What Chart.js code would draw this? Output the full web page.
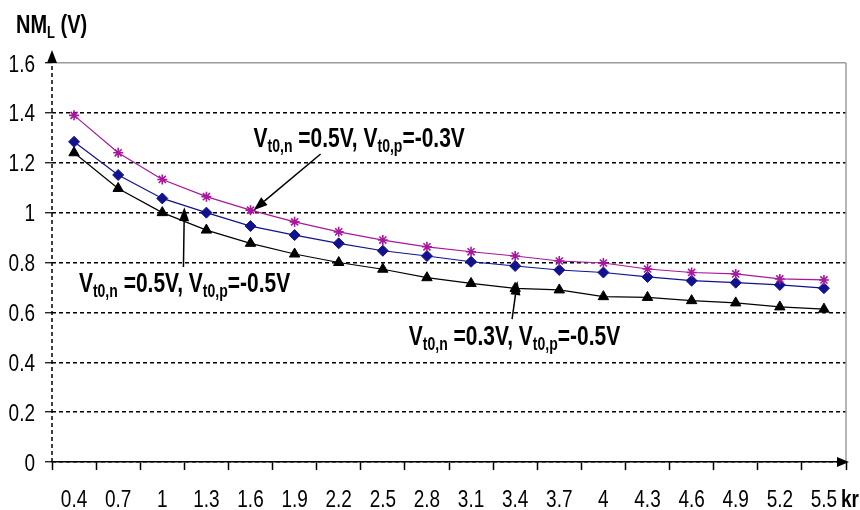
<!DOCTYPE html>
<html>
<head>
<meta charset="utf-8">
<script src="https://cdn.jsdelivr.net/npm/chart.js@4.4.1/dist/chart.umd.min.js"></script>
<style>
html, body { margin: 0; padding: 0; background: #fff; }
</style>
</head>
<body>
<canvas id="nm_chart" width="860" height="510"></canvas>
<script>
// kr values on the x axis
const kr_labels = ['0.4', '0.7', '1', '1.3', '1.6', '1.9', '2.2', '2.5', '2.8', '3.1', '3.4', '3.7', '4', '4.3', '4.6', '4.9', '5.2', '5.5']

// NM_L (V)
const nm_n05_p03 = [1.39, 1.24, 1.133, 1.064, 1.01, 0.963, 0.923, 0.89, 0.863, 0.843, 0.826, 0.806, 0.798, 0.774, 0.76, 0.754, 0.734, 0.73]
const nm_n05_p05 = [1.284, 1.151, 1.057, 1.0, 0.946, 0.91, 0.877, 0.847, 0.826, 0.803, 0.786, 0.77, 0.76, 0.742, 0.727, 0.719, 0.71, 0.697]
const nm_n03_p05 = [1.24, 1.097, 1.0, 0.93, 0.877, 0.834, 0.8, 0.773, 0.739, 0.716, 0.696, 0.69, 0.663, 0.66, 0.647, 0.638, 0.622, 0.613]

const y_min = 0
const y_max = 1.6
const y_step = 0.2

const magenta = '#a8179e'
const navy = '#12128f'
const ink = '#000000'

const text_family = "'Liberation Sans', Arial, sans-serif"

// callouts: label start + arrow (from -> to), in data units (x = category index)
const callouts = [
    { parts: [['V', 0], ['t0,n', 1], [' =0.5V, V', 0], ['t0,p', 1], ['=-0.3V', 0]], at: [4.07, 1.263], from: [5.59, 1.235], to: [4.07, 1.01] },
    { parts: [['V', 0], ['t0,n', 1], [' =0.5V, V', 0], ['t0,p', 1], ['=-0.5V', 0]], at: [0.11, 0.682], from: [2.48, 0.782], to: [2.5, 1.022] },
    { parts: [['V', 0], ['t0,n', 1], [' =0.3V, V', 0], ['t0,p', 1], ['=-0.5V', 0]], at: [7.59, 0.469], from: [9.93, 0.573], to: [10.05, 0.726] },
]

// the original picture is stretched vertically, text is drawn the same way
const stretch = 1.3

function rich_text(ctx, parts, x, y, size, weight, align) {
    ctx.save()
    ctx.translate(x, y)
    ctx.scale(1, stretch)
    ctx.fillStyle = ink
    ctx.textBaseline = 'alphabetic'
    ctx.textAlign = 'left'
    let total = 0
    parts.forEach(([t, sub]) => {
        ctx.font = weight + ' ' + (sub ? Math.round(size * 0.66) : size) + 'px ' + text_family
        total += ctx.measureText(t).width
    })
    let cx = align === 'right' ? -total : align === 'center' ? -total / 2 : 0
    parts.forEach(([t, sub]) => {
        ctx.font = weight + ' ' + (sub ? Math.round(size * 0.66) : size) + 'px ' + text_family
        ctx.fillText(t, cx, sub ? 4 : 0)
        cx += ctx.measureText(t).width
    })
    ctx.restore()
}

function arrow(ctx, x1, y1, x2, y2) {
    const ang = Math.atan2(y2 - y1, x2 - x1)
    const len = 14, half = 5
    const bx = x2 - len * Math.cos(ang), by = y2 - len * Math.sin(ang)
    ctx.save()
    ctx.strokeStyle = ink
    ctx.fillStyle = ink
    ctx.lineWidth = 1.5
    ctx.beginPath()
    ctx.moveTo(x1, y1)
    ctx.lineTo(bx, by)
    ctx.stroke()
    ctx.beginPath()
    ctx.moveTo(x2, y2)
    ctx.lineTo(bx + half * Math.sin(ang), by - half * Math.cos(ang))
    ctx.lineTo(bx - half * Math.sin(ang), by + half * Math.cos(ang))
    ctx.closePath()
    ctx.fill()
    ctx.restore()
}

const decor = {
    id: 'decor',
    beforeDatasetsDraw(chart) {
        const { ctx, chartArea: a } = chart
        ctx.save()
        // right frame
        ctx.strokeStyle = '#9c9c9c'
        ctx.lineWidth = 1.5
        ctx.beginPath()
        ctx.moveTo(a.right, a.top)
        ctx.lineTo(a.right, a.bottom)
        ctx.stroke()
        // dashed y axis
        ctx.strokeStyle = ink
        ctx.setLineDash([4, 3])
        ctx.beginPath()
        ctx.moveTo(a.left, a.bottom)
        ctx.lineTo(a.left, a.top)
        ctx.stroke()
        ctx.setLineDash([])
        // axis arrow heads
        ctx.fillStyle = ink
        ctx.beginPath()
        ctx.moveTo(a.left, a.top - 13)
        ctx.lineTo(a.left - 5, a.top)
        ctx.lineTo(a.left + 5, a.top)
        ctx.closePath()
        ctx.fill()
        ctx.beginPath()
        ctx.moveTo(a.right + 3, a.bottom)
        ctx.lineTo(a.right - 9, a.bottom - 5)
        ctx.lineTo(a.right - 9, a.bottom + 5)
        ctx.closePath()
        ctx.fill()
        ctx.restore()
    },
    afterDraw(chart) {
        const { ctx, chartArea: a, scales: { x, y } } = chart
        // tick labels, taken from the scales' own ticks
        x.ticks.forEach((t, i) => {
            rich_text(ctx, [[x.getLabelForValue(t.value), 0]], x.getPixelForTick(i), a.bottom + 45, 19, 'normal', 'center')
        })
        y.ticks.forEach((t, i) => {
            rich_text(ctx, [[t.label, 0]], a.left - 17, y.getPixelForTick(i) + 8.5, 19, 'normal', 'right')
        })
        callouts.forEach(c => {
            arrow(ctx, x.getPixelForValue(c.from[0]), y.getPixelForValue(c.from[1]),
                x.getPixelForValue(c.to[0]), y.getPixelForValue(c.to[1]))
            rich_text(ctx, c.parts, x.getPixelForValue(c.at[0]), y.getPixelForValue(c.at[1]), 21, 'bold')
        })
        // axis titles
        rich_text(ctx, [['NM', 0], ['L', 1], [' (V)', 0]], 16, 33, 20, 'bold')
        rich_text(ctx, [['kr', 0]], a.right - 5, 507, 19, 'bold')
    }
}

const nm_chart = new Chart(document.getElementById('nm_chart'), {
    type: 'line',
    data: {
        labels: kr_labels,
        datasets: [
            {
                label: 'Vt0,n=0.5V, Vt0,p=-0.3V',
                data: nm_n05_p03,
                borderColor: magenta,
                backgroundColor: magenta,
                borderWidth: 1.2,
                pointStyle: 'star',
                pointRadius: 5,
                pointBorderWidth: 1.6,
                tension: 0,
            },
            {
                label: 'Vt0,n=0.5V, Vt0,p=-0.5V',
                data: nm_n05_p05,
                borderColor: navy,
                backgroundColor: navy,
                borderWidth: 1.2,
                pointStyle: 'rectRot',
                pointRadius: 5.5,
                pointBorderWidth: 1,
                tension: 0,
            },
            {
                label: 'Vt0,n=0.3V, Vt0,p=-0.5V',
                data: nm_n03_p05,
                borderColor: ink,
                backgroundColor: ink,
                borderWidth: 1.2,
                pointStyle: 'triangle',
                pointRadius: 6,
                pointBorderWidth: 1,
                tension: 0,
            },
        ]
    },
    options: {
        responsive: false,
        animation: false,
        devicePixelRatio: 1,
        layout: {
            padding: { top: 63, right: 14, left: 0, bottom: 0 }
        },
        plugins: {
            legend: { display: false },
            tooltip: { enabled: false },
        },
        scales: {
            x: {
                type: 'category',
                offset: true,
                afterFit(scale) { scale.height = 48 },
                grid: {
                    drawOnChartArea: false,
                    drawTicks: true,
                    tickLength: 8,
                    tickColor: ink,
                    tickWidth: 1.5,
                    offset: true,
                },
                border: { display: true, color: ink, width: 1.5 },
                ticks: {
                    display: false,
                    maxRotation: 0,
                    autoSkip: false,
                }
            },
            y: {
                min: y_min,
                max: y_max,
                afterFit(scale) { scale.width = 52 },
                grid: {
                    color: c => (c.tick && Math.abs(c.tick.value - y_max) < 1e-6) ? '#9c9c9c' : ink,
                    lineWidth: 1.5,
                    drawTicks: true,
                    tickLength: 7,
                    tickColor: ink,
                    tickWidth: 1.2,
                },
                border: {
                    display: false,
                    dash: c => (c.tick && Math.abs(c.tick.value - y_max) < 1e-6) ? [] : [4, 3],
                },
                ticks: {
                    display: false,
                    stepSize: y_step,
                    callback: v => String(+Number(v).toFixed(1)),
                }
            }
        }
    },
    plugins: [decor]
})
</script>
</body>
</html>
